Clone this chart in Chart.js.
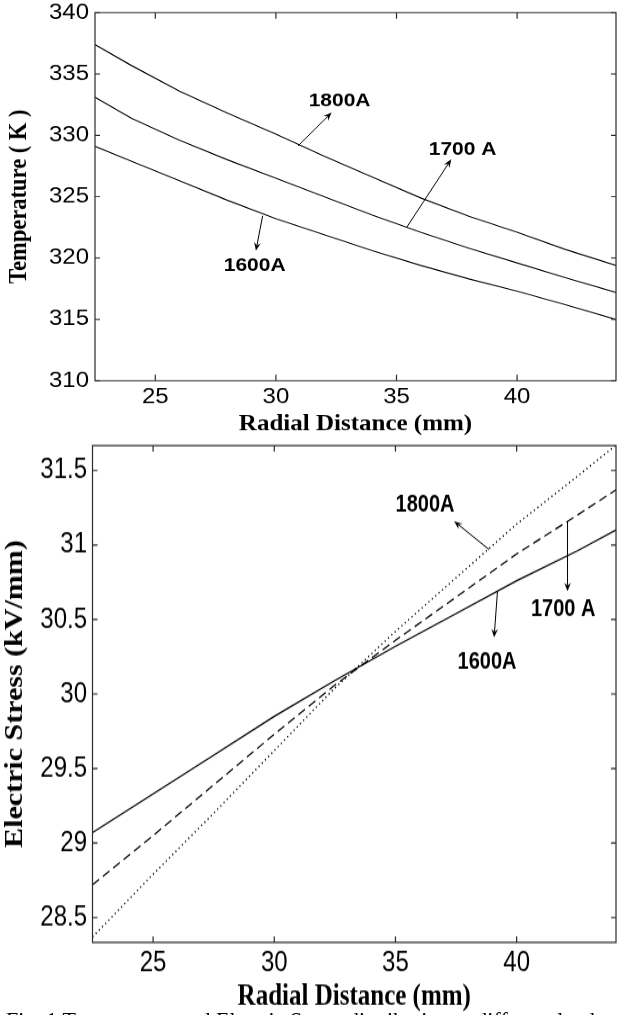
<!DOCTYPE html>
<html>
<head>
<meta charset="utf-8">
<script src="https://cdn.jsdelivr.net/npm/chart.js@4.4.0/dist/chart.umd.min.js"></script>
<style>
    html, body { margin: 0; padding: 0; background: #fff; overflow: hidden; }
    body { width: 617px; height: 1015px; position: relative; }
    .wrap { position: absolute; left: 0; width: 617px; height: 488px; transform-origin: 0 0; }
    #topWrap { top: 0; transform: scaleY(0.9); }
    #botWrap { top: 430px; transform: scaleY(1.2); }
    canvas { display: block; }
    #caption { position: absolute; left: 6px; top: 1009px; font: 22px "Liberation Serif", "Times New Roman", serif; line-height: 22px; white-space: nowrap; color: #000; }
</style>
</head>
<body>
<div class="wrap" id="topWrap"><canvas id="tempChart" width="617" height="488"></canvas></div>
<div class="wrap" id="botWrap"><canvas id="stressChart" width="617" height="488"></canvas></div>
<div id="caption">Fig. 1 Temperature and Electric Stress distribution at different loads</div>
<script>
// radial distance (mm) and temperature (K) for the three loads
const tempX = [22.5, 24, 26, 28, 30, 32, 34, 36, 38, 40, 42, 44.1];
const temp1600 = [329.1, 327.9, 326.3, 324.7, 323.2, 321.9, 320.6, 319.4, 318.3, 317.3, 316.2, 315.0];
const temp1700 = [333.1, 331.4, 329.6, 328.0, 326.5, 325.0, 323.5, 322.1, 320.8, 319.6, 318.4, 317.2];
const temp1800 = [337.4, 335.7, 333.6, 331.8, 330.1, 328.3, 326.6, 324.9, 323.4, 322.1, 320.7, 319.4];

// radial distance (mm) and electric stress (kV/mm)
const stressX = [22.5, 25, 27.5, 30, 32.5, 35, 37.5, 40, 42.5, 44.1];
const stress1600 = [29.07, 29.33, 29.59, 29.85, 30.09, 30.32, 30.54, 30.76, 30.96, 31.1];
const stress1700 = [28.72, 29.05, 29.39, 29.73, 30.06, 30.36, 30.65, 30.94, 31.2, 31.37];
const stress1800 = [28.37, 28.79, 29.2, 29.62, 30.04, 30.42, 30.78, 31.14, 31.46, 31.67];

// tick labels
const xTicks = [25, 30, 35, 40];
const tempTicks = [310, 315, 320, 325, 330, 335, 340];
const stressTicks = [28.5, 29, 29.5, 30, 30.5, 31, 31.5];

// labels and arrows, in data units
const tempNotes = [
    { text: '1800A', x: 32.64, y: 332.8 },
    { text: '1700 A', x: 37.74, y: 328.87 },
    { text: '1600A', x: 29.12, y: 319.36 }
];
const tempArrows = [
    { x1: 30.92, y1: 329.14, x2: 32.31, y2: 331.85 },
    { x1: 35.42, y1: 322.49, x2: 37.27, y2: 328.05 },
    { x1: 29.45, y1: 323.44, x2: 29.17, y2: 320.59 }
];
const stressNotes = [
    { text: '1800A', x: 36.22, y: 31.27 },
    { text: '1700 A', x: 41.92, y: 30.57 },
    { text: '1600A', x: 38.78, y: 30.21 }
];
const stressArrows = [
    { x1: 38.86, y1: 30.97, x2: 37.42, y2: 31.16 },
    { x1: 42.1, y1: 31.16, x2: 42.1, y2: 30.69 },
    { x1: 39.21, y1: 30.69, x2: 39.07, y2: 30.38 }
];

// matlab style box with inward ticks on all four sides
const boxPlugin = {
    id: 'matlabBox',
    afterDraw(chart, args, opts) {
        const { ctx, chartArea: a, scales } = chart;
        const sy = opts.sy || 1;
        ctx.save();
        ctx.strokeStyle = '#2a2a2a';
        ctx.lineWidth = 1.2;
        ctx.strokeRect(a.left, a.top, a.right - a.left, a.bottom - a.top);
        ctx.beginPath();
        scales.x.ticks.forEach(t => {
            const px = scales.x.getPixelForValue(t.value);
            ctx.moveTo(px, a.bottom); ctx.lineTo(px, a.bottom - 6 / sy);
            ctx.moveTo(px, a.top); ctx.lineTo(px, a.top + 6 / sy);
        });
        scales.y.ticks.forEach(t => {
            const py = scales.y.getPixelForValue(t.value);
            ctx.moveTo(a.left, py); ctx.lineTo(a.left + 5, py);
            ctx.moveTo(a.right, py); ctx.lineTo(a.right - 5, py);
        });
        ctx.stroke();
        ctx.restore();
    }
};

// text labels with arrows pointing at the curves
const notesPlugin = {
    id: 'notes',
    afterDatasetsDraw(chart, args, opts) {
        const { ctx, scales: { x, y } } = chart;
        const sy = opts.sy || 1;
        ctx.save();
        ctx.fillStyle = '#000';
        ctx.strokeStyle = '#000';
        ctx.lineWidth = 1;
        ctx.font = `bold ${opts.size}px "Liberation Sans", Arial, sans-serif`;
        ctx.textAlign = 'center';
        ctx.textBaseline = 'middle';
        opts.notes.forEach(n => ctx.fillText(n.text, x.getPixelForValue(n.x), y.getPixelForValue(n.y)));
        opts.arrows.forEach(ar => {
            const x1 = x.getPixelForValue(ar.x1), y1 = y.getPixelForValue(ar.y1);
            const x2 = x.getPixelForValue(ar.x2), y2 = y.getPixelForValue(ar.y2);
            const ang = Math.atan2((y2 - y1) * sy, x2 - x1);
            const L = 9, W = 0.38;
            const pt = (len, a) => [x2 - len * Math.cos(a), y2 - len * Math.sin(a) / sy];
            ctx.beginPath();
            ctx.moveTo(x1, y1);
            const back = pt(L * 0.6, ang);
            ctx.lineTo(back[0], back[1]);
            ctx.stroke();
            const l = pt(L, ang - W), r = pt(L, ang + W);
            ctx.beginPath();
            ctx.moveTo(x2, y2);
            ctx.lineTo(l[0], l[1]);
            ctx.lineTo(back[0], back[1]);
            ctx.lineTo(r[0], r[1]);
            ctx.closePath();
            ctx.fill();
        });
        ctx.restore();
    }
};

function makeChart(id, cfg) {
    const datasets = cfg.series.map((s, i) => ({
        data: cfg.xs.map((xv, j) => ({ x: xv, y: s[j] })),
        borderColor: '#000',
        borderWidth: cfg.widths[i],
        borderDash: cfg.dashes[i],
        pointRadius: 0,
        tension: 0,
        fill: false
    }));
    const fixAxis = size => s => {
        if (s.isHorizontal()) s.height = size; else s.width = size;
        s.paddingTop = 0; s.paddingBottom = 0; s.paddingLeft = 0; s.paddingRight = 0;
    };
    return new Chart(document.getElementById(id), {
        type: 'line',
        data: { datasets },
        options: {
            responsive: false,
            animation: false,
            layout: { padding: { top: cfg.padTop, right: 1, bottom: 0, left: 0 } },
            plugins: {
                legend: { display: false },
                tooltip: { enabled: false },
                matlabBox: { sy: cfg.sy },
                notes: { sy: cfg.sy, size: cfg.noteSize, notes: cfg.notes, arrows: cfg.arrows }
            },
            scales: {
                x: {
                    type: 'linear',
                    min: 22.5,
                    max: 44.1,
                    grid: { display: false, drawTicks: false },
                    border: { display: false },
                    ticks: {
                        color: '#000',
                        autoSkip: false,
                        maxRotation: 0,
                        padding: cfg.xTickPad,
                        font: { family: '"Liberation Sans", Arial, sans-serif', size: 24 },
                        callback: v => String(v)
                    },
                    afterBuildTicks: s => { s.ticks = xTicks.map(v => ({ value: v })); },
                    afterFit: fixAxis(cfg.xAxisHeight),
                    title: {
                        display: true,
                        text: 'Radial Distance (mm)',
                        color: '#000',
                        font: { family: '"Liberation Serif", "Times New Roman", serif', size: 25, weight: 'bold' },
                        padding: { top: 0, bottom: cfg.xTitlePad }
                    }
                },
                y: {
                    min: cfg.yMin,
                    max: cfg.yMax,
                    grid: { display: false, drawTicks: false },
                    border: { display: false },
                    ticks: {
                        color: '#000',
                        autoSkip: false,
                        padding: cfg.yTickPad,
                        font: { family: '"Liberation Sans", Arial, sans-serif', size: 24 },
                        callback: v => String(v)
                    },
                    afterBuildTicks: s => { s.ticks = cfg.yTicks.map(v => ({ value: v })); },
                    afterFit: fixAxis(cfg.yAxisWidth),
                    title: {
                        display: true,
                        text: cfg.yTitle,
                        color: '#000',
                        font: { family: '"Liberation Serif", "Times New Roman", serif', size: 25, weight: 'bold' },
                        padding: { top: cfg.yTitlePad, bottom: 0 }
                    }
                }
            }
        },
        plugins: [boxPlugin, notesPlugin]
    });
}

const tempChart = makeChart('tempChart', {
    xs: tempX,
    series: [temp1600, temp1700, temp1800],
    dashes: [[], [], []],
    widths: [1.2, 1.2, 1.2],
    yMin: 310, yMax: 340, yTicks: tempTicks,
    yTitle: 'Temperature ( K )',
    sy: 0.9, padTop: 14,
    xAxisHeight: 65, yAxisWidth: 95,
    xTickPad: 3.5, xTitlePad: 1, yTickPad: 6, yTitlePad: 5,
    noteSize: 21, notes: tempNotes, arrows: tempArrows
});

const stressChart = makeChart('stressChart', {
    xs: stressX,
    series: [stress1600, stress1700, stress1800],
    dashes: [[], [8, 4.5], [1.2, 3]],
    widths: [1.2, 1.2, 1.4],
    yMin: 28.333, yMax: 31.667, yTicks: stressTicks,
    yTitle: 'Electric Stress (kV/mm)',
    sy: 1.2, padTop: 13,
    xAxisHeight: 61, yAxisWidth: 92.5,
    xTickPad: 3.3, xTitlePad: 0.5, yTickPad: 5.5, yTitlePad: 1,
    noteSize: 20, notes: stressNotes, arrows: stressArrows
});
</script>
</body>
</html>
